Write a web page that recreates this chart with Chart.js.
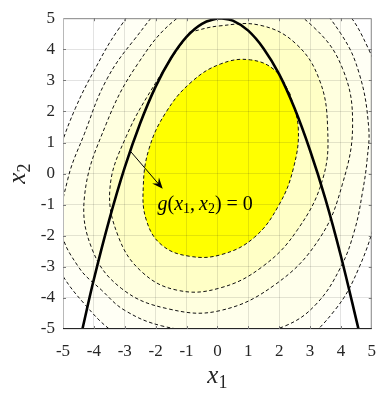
<!DOCTYPE html>
<html>
<head>
<meta charset="utf-8">
<style>
  html, body { margin: 0; padding: 0; background: #ffffff; }
  canvas { display: block; }
</style>
<script src="https://cdn.jsdelivr.net/npm/chart.js@4.4.1/dist/chart.umd.min.js"></script>
</head>
<body>
<canvas id="chart" width="388" height="396"></canvas>
<script>
// Axis range and ticks
const axisMin = -5;
const axisMax = 5;
const tickStep = 1;

// Limit-state curve g(x1, x2) = 0
const parabolaX1 = [-4.38, -4, -3.5, -3, -2.5, -2, -1.5, -1, -0.5, 0, 0.1, 0.5, 1, 1.5, 2, 2.5, 3, 3.5, 4, 4.58];
const parabolaX2 = [-5.04, -3.4, -1.48, 0.2, 1.62, 2.8, 3.72, 4.4, 4.82, 4.99, 5.0, 4.92, 4.6, 4.02, 3.2, 2.1, 0.75, -0.82, -2.65, -5.04];

// Density contours, innermost (level 1) to outermost (level 5); each is a closed loop
const level1X1 = [2.36, 1.88, 1.07, 0.11, -0.85, -1.66, -2.21, -2.40, -2.3, -1.8, -0.9, 0.15, 1.2, 2.0, 2.47, 2.62];
const level1X2 = [2.55, 3.31, 3.66, 3.53, 2.94, 1.98, 0.81, -0.42, -1.5, -2.3, -2.66, -2.6, -2.05, -1.0, 0.2, 1.47];

const level2X1 = [-0.9, -1.95, -2.95, -3.48, -3.21, -2.45, -1.31, 0.05, 1.45, 2.6, 3.42, 3.57, 3.30, 2.54, 1.40, 0.05];
const level2X2 = [4.55, 3.0, 1.2, -0.48, -2.02, -3.16, -3.75, -3.69, -3.0, -1.8, -0.15, 1.5, 3.03, 4.18, 4.77, 4.75];

const level3X1 = [0.1, -1.3, -2.6, -3.6, -4.3, -4.05, -3.1, -1.6, 0.08, 1.9, 3.3, 4.05, 4.38, 4.05, 3.12, 1.8];
const level3X2 = [5.6, 5.0, 3.5, 1.6, -0.7, -2.45, -3.7, -4.35, -4.41, -3.55, -2.1, -0.34, 1.61, 3.39, 4.71, 5.5];

const level4X1 = [0.0, -1.5, -2.7, -3.6, -4.3, -4.85, -5.05, -4.5, -3.75, -3.0, -1.8, -0.3, 1.1, 2.2, 3.2, 4.0, 4.45, 4.7, 4.85, 4.9, 4.6, 4.0, 3.0, 1.6];
const level4X2 = [6.2, 5.6, 4.3, 3.0, 1.3, -0.2, -1.8, -3.0, -3.75, -4.4, -4.9, -5.08, -5.1, -4.9, -4.2, -3.0, -1.8, -0.6, 0.45, 1.5, 3.2, 4.5, 5.6, 6.2];

const level5X1 = [1.0, -0.8, -2.1, -3.2, -4.0, -4.6, -5.1, -5.6, -5.5, -5.0, -4.3, -3.5, -2.4, -0.8, 1.0, 2.6, 3.8, 4.6, 5.2, 5.6, 5.4, 4.9, 4.1, 2.8];
const level5X2 = [6.9, 6.8, 6.0, 4.65, 3.3, 2.1, 0.8, -0.8, -2.3, -3.3, -4.2, -5.0, -5.7, -6.2, -6.1, -5.5, -4.4, -3.0, -1.2, 0.8, 2.6, 4.0, 5.3, 6.3];

// Arrow pointing from the curve to its label, and the label anchor
const arrowFrom = [-2.8, 0.7];
const arrowTo = [-1.77, -0.49];
const labelAt = [-1.94, -1.18];

const bandColors = ['#FFFF00', '#FFFFC6', '#FFFFDF', '#FFFFEB', '#FFFFF5'];
const inkColor = '#262626';
const serif = '"Liberation Serif", "DejaVu Serif", serif';

function toPoints(xs, ys, closed) {
  const pts = xs.map((x, i) => ({ x: x, y: ys[i] }));
  if (closed) pts.push({ x: xs[0], y: ys[0] });
  return pts;
}

function contourDataset(xs, ys, color) {
  return {
    data: toPoints(xs, ys, true),
    showLine: true,
    fill: 'shape',
    backgroundColor: color,
    borderColor: '#111111',
    borderWidth: 1,
    borderDash: [3.5, 2.5],
    tension: 0.4,
    pointRadius: 0,
    pointHoverRadius: 0
  };
}

// Draws a run of text pieces, each with its own font and baseline shift
function drawRun(ctx, parts, x, y) {
  let cx = x;
  parts.forEach(p => {
    ctx.font = p.font;
    ctx.fillText(p.text, cx, y + (p.dy || 0));
    cx += ctx.measureText(p.text).width;
  });
  return cx;
}
function runWidth(ctx, parts) {
  let w = 0;
  parts.forEach(p => { ctx.font = p.font; w += ctx.measureText(p.text).width; });
  return w;
}

const italicBig = 'italic 25px ' + serif;
const subBig = '18px ' + serif;
const italicMid = 'italic 20px ' + serif;
const romanMid = '20px ' + serif;
const subMid = '14px ' + serif;

const overlayPlugin = {
  id: 'overlay',
  afterDatasetsDraw(chart) {
    const ctx = chart.ctx;
    const xs = chart.scales.x, ys = chart.scales.y;

    // arrow
    const x0 = xs.getPixelForValue(arrowFrom[0]), y0 = ys.getPixelForValue(arrowFrom[1]);
    const x1 = xs.getPixelForValue(arrowTo[0]), y1 = ys.getPixelForValue(arrowTo[1]);
    const ang = Math.atan2(y1 - y0, x1 - x0);
    const headLen = 11, headHalf = 4.5;
    ctx.save();
    ctx.strokeStyle = '#000';
    ctx.fillStyle = '#000';
    ctx.lineWidth = 1;
    ctx.beginPath();
    ctx.moveTo(x0, y0);
    ctx.lineTo(x1 - Math.cos(ang) * headLen * 0.6, y1 - Math.sin(ang) * headLen * 0.6);
    ctx.stroke();
    ctx.translate(x1, y1);
    ctx.rotate(ang);
    ctx.beginPath();
    ctx.moveTo(0, 0);
    ctx.lineTo(-headLen, -headHalf);
    ctx.lineTo(-headLen * 0.65, 0);
    ctx.lineTo(-headLen, headHalf);
    ctx.closePath();
    ctx.fill();
    ctx.restore();

    // curve label
    ctx.save();
    ctx.fillStyle = '#000';
    ctx.textBaseline = 'alphabetic';
    ctx.textAlign = 'left';
    drawRun(ctx, [
      { text: 'g', font: italicMid },
      { text: '(', font: romanMid },
      { text: 'x', font: italicMid },
      { text: '1', font: subMid, dy: 3 },
      { text: ',\u2009', font: romanMid },
      { text: 'x', font: italicMid },
      { text: '2', font: subMid, dy: 3 },
      { text: ') = 0', font: romanMid }
    ], xs.getPixelForValue(labelAt[0]), ys.getPixelForValue(labelAt[1]));
    ctx.restore();
  },
  afterDraw(chart) {
    const ctx = chart.ctx;
    const a = chart.chartArea;
    const xs = chart.scales.x, ys = chart.scales.y;
    ctx.save();
    // box with inward ticks
    ctx.lineWidth = 1;
    ctx.strokeStyle = '#8a8a8a';
    ctx.beginPath();
    ctx.moveTo(a.left + 0.5, a.top + 0.5);
    ctx.lineTo(a.right - 0.5, a.top + 0.5);
    ctx.lineTo(a.right - 0.5, a.bottom);
    ctx.stroke();
    ctx.strokeStyle = '#b8b8b8';
    ctx.beginPath();
    ctx.moveTo(a.left + 0.5, a.top);
    ctx.lineTo(a.left + 0.5, a.bottom);
    ctx.stroke();
    ctx.strokeStyle = inkColor;
    ctx.beginPath();
    ctx.moveTo(a.left, a.bottom - 0.5);
    ctx.lineTo(a.right, a.bottom - 0.5);
    ctx.stroke();
    ctx.strokeStyle = '#7a7a7a';
    ctx.beginPath();
    for (let v = axisMin + tickStep; v < axisMax; v += tickStep) {
      const px = Math.round(xs.getPixelForValue(v)) + 0.5;
      const py = Math.round(ys.getPixelForValue(v)) + 0.5;
      ctx.moveTo(px, a.bottom); ctx.lineTo(px, a.bottom - 3);
      ctx.moveTo(px, a.top); ctx.lineTo(px, a.top + 3);
      ctx.moveTo(a.left, py); ctx.lineTo(a.left + 3, py);
      ctx.moveTo(a.right, py); ctx.lineTo(a.right - 3, py);
    }
    ctx.stroke();

    // axis titles x1 and x2
    ctx.fillStyle = inkColor;
    ctx.textBaseline = 'alphabetic';
    ctx.textAlign = 'left';
    const t1 = [{ text: 'x', font: italicBig }, { text: '1', font: subBig, dy: 5 }];
    const w1 = runWidth(ctx, t1);
    drawRun(ctx, t1, (a.left + a.right) / 2 - w1 / 2, 383);
    const t2 = [{ text: 'x', font: italicBig }, { text: '2', font: subBig, dy: 5 }];
    const w2 = runWidth(ctx, t2);
    ctx.translate(25, (a.top + a.bottom) / 2);
    ctx.rotate(-Math.PI / 2);
    drawRun(ctx, t2, -w2 / 2, 0);
    ctx.restore();
  }
};

const tickFont = { family: serif, size: 17 };

new Chart(document.getElementById('chart'), {
  type: 'scatter',
  data: {
    datasets: [
      {
        data: toPoints(parabolaX1, parabolaX2, false),
        showLine: true,
        fill: false,
        borderColor: '#000000',
        borderWidth: 2.6,
        tension: 0.4,
        pointRadius: 0,
        pointHoverRadius: 0
      },
      contourDataset(level1X1, level1X2, bandColors[0]),
      contourDataset(level2X1, level2X2, bandColors[1]),
      contourDataset(level3X1, level3X2, bandColors[2]),
      contourDataset(level4X1, level4X2, bandColors[3]),
      contourDataset(level5X1, level5X2, bandColors[4])
    ]
  },
  options: {
    responsive: false,
    devicePixelRatio: 1,
    animation: false,
    events: [],
    layout: { padding: { top: 9, right: 5, left: 0, bottom: 0 } },
    plugins: { legend: { display: false }, tooltip: { enabled: false } },
    scales: {
      x: {
        type: 'linear',
        min: axisMin, max: axisMax,
        afterFit(scale) { scale.height = 67; },
        border: { display: false },
        grid: { color: 'rgba(38,38,38,0.13)', lineWidth: 1, drawTicks: false, z: 1 },
        ticks: { stepSize: tickStep, autoSkip: false, maxRotation: 0, padding: 12, color: inkColor, font: tickFont }
      },
      y: {
        type: 'linear',
        min: axisMin, max: axisMax,
        afterFit(scale) { scale.width = 63; },
        border: { display: false },
        grid: { color: 'rgba(38,38,38,0.13)', lineWidth: 1, drawTicks: false, z: 1 },
        ticks: { stepSize: tickStep, autoSkip: false, padding: 8, color: inkColor, font: tickFont }
      }
    }
  },
  plugins: [overlayPlugin]
});
</script>
</body>
</html>
